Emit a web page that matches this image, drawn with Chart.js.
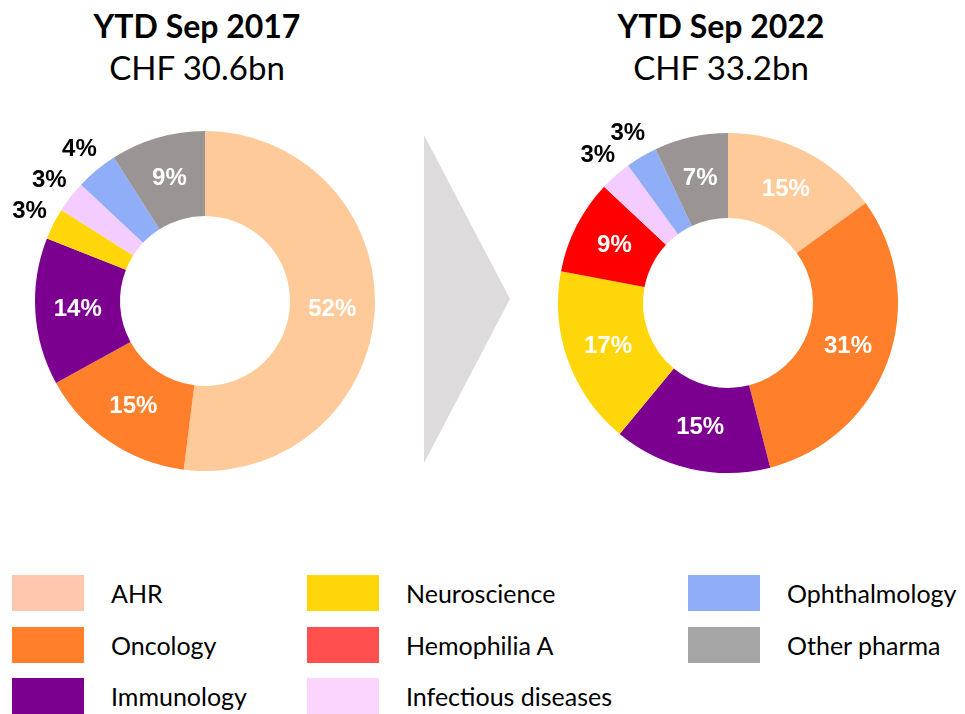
<!DOCTYPE html>
<html>
<head>
<meta charset="utf-8">
<script src="https://cdn.jsdelivr.net/npm/chart.js@4"></script>
<style>
  body { margin: 0; background: #fff; width: 965px; height: 714px; overflow: hidden; position: relative; font-family: Lato, sans-serif; }
  .title { position: absolute; width: 400px; text-align: center; color: #000; }
  .title .year { font-weight: bold; font-size: 32px; line-height: 40px; }
  .title .total { font-size: 33px; line-height: 42px; }
  .pie { position: absolute; width: 400px; height: 400px; }
  .arrow { position: absolute; left: 424px; top: 135px; width: 86px; height: 328px; background: #dddbdb; clip-path: polygon(0 0, 100% 50%, 0 100%); }
  .key { position: absolute; height: 36px; display: flex; align-items: center; }
  .key .sw { width: 72px; height: 36px; margin-right: 27px; }
  .key span { font-size: 25px; color: #000; }
</style>
</head>
<body>
<div class="title" style="left:-3px; top:6px;"><div class="year">YTD Sep 2017</div><div class="total">CHF 30.6bn</div></div>
<div class="title" style="left:521px; top:6px;"><div class="year">YTD Sep 2022</div><div class="total">CHF 33.2bn</div></div>
<div class="arrow"></div>
<div class="pie" style="left:5px; top:101px;"><canvas id="chart2017" width="400" height="400"></canvas></div>
<div class="pie" style="left:528px; top:103px;"><canvas id="chart2022" width="400" height="400"></canvas></div>
<div id="legend"></div>
<script>
const categories = ["AHR", "Oncology", "Immunology", "Neuroscience", "Hemophilia A", "Infectious diseases", "Ophthalmology", "Other pharma"];
const share2017 = [52, 15, 14, 3, 0, 3, 4, 9];
const share2022 = [15, 31, 15, 17, 9, 3, 3, 7];
const sliceColors = ["#ffca99", "#ff7f2a", "#7b0090", "#ffd60a", "#ff0000", "#f5ccff", "#90aef8", "#9a9494"];
const legendColors = ["#ffc7ae", "#ff7f2a", "#7b0090", "#ffd60a", "#ff4f4f", "#fcd5ff", "#90aef8", "#a5a5a5"];

// small slices get a black label outside the ring, others white inside
const pctLabels = {
  id: "pctLabels",
  afterDatasetsDraw(chart) {
    const ctx = chart.ctx;
    const meta = chart.getDatasetMeta(0);
    const values = chart.data.datasets[0].data;
    ctx.save();
    ctx.font = "bold 24px 'Liberation Sans', Arial, sans-serif";
    ctx.textAlign = "center";
    ctx.textBaseline = "middle";
    meta.data.forEach((arc, i) => {
      const v = values[i];
      if (!v) return;
      if (v >= 5) {
        const p = arc.tooltipPosition();
        ctx.fillStyle = "#fff";
        ctx.fillText(v + "%", p.x, p.y);
      } else {
        const a = (arc.startAngle + arc.endAngle) / 2;
        const r = arc.outerRadius + 27;
        ctx.fillStyle = "#000";
        ctx.fillText(v + "%", arc.x + Math.cos(a) * r, arc.y + Math.sin(a) * r);
      }
    });
    ctx.restore();
  },
};

function renderPie(id, values) {
  return new Chart(document.getElementById(id), {
    type: "doughnut",
    data: {
      labels: categories,
      datasets: [
        {
          data: values,
          backgroundColor: sliceColors,
          borderWidth: 0,
          hoverOffset: 0,
        },
      ],
    },
    options: {
      responsive: false,
      animation: false,
      cutout: "50%",
      layout: { padding: 30 },
      plugins: { legend: { display: false }, tooltip: { enabled: false } },
      events: [],
    },
    plugins: [pctLabels],
  });
}

renderPie("chart2017", share2017);
renderPie("chart2022", share2022);

// legend, three rows filled column by column
const legendCols = [12, 307, 688];
const legendRows = [575, 627, 678];
const legend = document.getElementById("legend");
categories.forEach((name, i) => {
  const col = Math.floor(i / 3);
  const row = i % 3;
  const el = document.createElement("div");
  el.className = "key";
  el.style.left = legendCols[col] + "px";
  el.style.top = legendRows[row] + "px";
  el.innerHTML = `<div class="sw" style="background:${legendColors[i]}"></div><span>${name}</span>`;
  legend.appendChild(el);
});
</script>
</body>
</html>
